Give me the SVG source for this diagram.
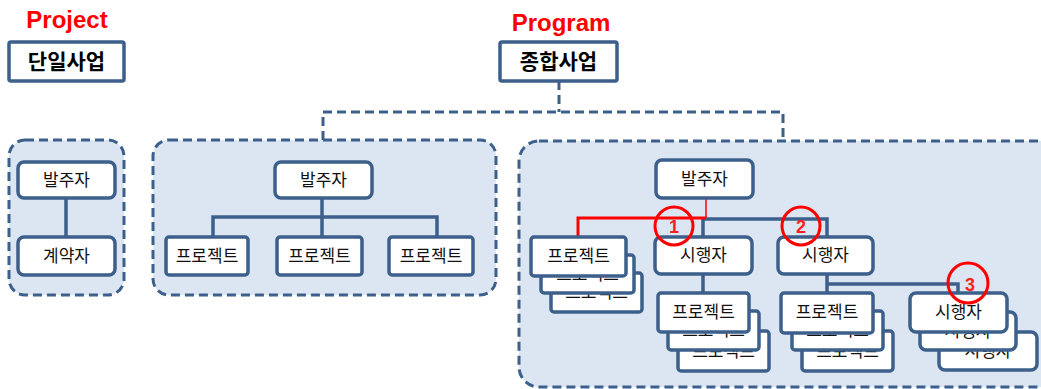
<svg xmlns="http://www.w3.org/2000/svg" width="1041" height="389" viewBox="0 0 1041 389">
<style>
.c{fill:#dce6f2;stroke:#3c5f8b;stroke-width:3;stroke-dasharray:9 5}
.n{fill:#fff;stroke:#3c5f8b;stroke-width:3.5}
.t{font-family:"Noto Sans CJK KR",sans-serif;font-size:17px;fill:#111;text-anchor:middle}
.tb{font-family:"Noto Sans CJK KR",sans-serif;font-size:21px;font-weight:bold;fill:#000;text-anchor:middle}
.lbl{font-family:"Liberation Sans",Arial,sans-serif;font-size:24px;font-weight:bold;fill:#ff0000;text-anchor:middle}
.ln{fill:none;stroke:#3c5f8b;stroke-width:3.5}
.dl{fill:none;stroke:#3c5f8b;stroke-width:3;stroke-dasharray:9 5}
.rl{fill:none;stroke:#ff0000;stroke-width:3}
.ci{fill:none;stroke:#ff0000;stroke-width:3}
.num{font-family:"Liberation Sans",Arial,sans-serif;font-size:18px;font-weight:bold;fill:#ff2020;text-anchor:middle}
</style>
<text class="lbl" x="67" y="28">Project</text>
<text class="lbl" x="561" y="31">Program</text>
<g id="containers">
<rect id="c-left" class="c" x="9" y="140" width="115" height="155" rx="16"/>
<rect id="c-mid" class="c" x="153" y="140" width="343" height="155" rx="16"/>
<rect id="c-right" class="c" x="519" y="141" width="540" height="246" rx="20"/>
</g>
<g id="connectors">
<path class="dl" d="M559 81V112M323 140V112H783V140"/>
<path class="ln" d="M66 198V237"/>
<path class="ln" d="M322 198V217M213 237V217H437V237M322 217V237"/>
<path class="ln" d="M703 237V219H827V237"/>
<path class="ln" d="M703 274V293"/>
<path class="ln" d="M827 274V293M827 284H958V293"/>
<path class="rl" d="M578 237V218H706"/>
<path fill="none" stroke="#ff0000" stroke-width="1.5" d="M706 198V218"/>
</g>
<g id="n-danil"><rect class="n" x="9" y="42" width="115" height="39" rx="2"/><text class="tb" x="66.5" y="69">단일사업</text></g>
<g id="n-jonghap"><rect class="n" x="500" y="42" width="117" height="39" rx="2"/><text class="tb" x="558.5" y="69">종합사업</text></g>
<g id="n-l-owner"><rect class="n" x="18" y="162" width="97" height="36" rx="6"/><text class="t" x="66.5" y="186">발주자</text></g>
<g id="n-l-contractor"><rect class="n" x="18" y="237" width="97" height="38" rx="6"/><text class="t" x="66.5" y="262">계약자</text></g>
<g id="n-m-owner"><rect class="n" x="275" y="162" width="97" height="36" rx="6"/><text class="t" x="323.5" y="186">발주자</text></g>
<g id="n-m-p1"><rect class="n" x="166" y="237" width="82" height="38" rx="3"/><text class="t" x="207" y="262">프로젝트</text></g>
<g id="n-m-p2"><rect class="n" x="277" y="237" width="85" height="38" rx="3"/><text class="t" x="319.5" y="262">프로젝트</text></g>
<g id="n-m-p3"><rect class="n" x="389" y="237" width="84" height="38" rx="3"/><text class="t" x="431" y="262">프로젝트</text></g>
<g id="n-r-owner"><rect class="n" x="656" y="160" width="97" height="38" rx="6"/><text class="t" x="704.5" y="185">발주자</text></g>
<g id="n-r-e1"><rect class="n" x="655" y="237" width="97" height="37" rx="6"/><text class="t" x="703.5" y="261">시행자</text></g>
<g id="n-r-e2"><rect class="n" x="778" y="237" width="95" height="37" rx="6"/><text class="t" x="825.5" y="261">시행자</text></g>
<g id="n-stack-a">
<rect class="n" x="551" y="273" width="91" height="39" rx="3"/><text class="t" x="596.5" y="298">프로젝트</text>
<rect class="n" x="541" y="255" width="93" height="38" rx="3"/><text class="t" x="587.5" y="280">프로젝트</text>
<rect class="n" x="531" y="237" width="95" height="39" rx="3"/><text class="t" x="578.5" y="262">프로젝트</text>
</g>
<g id="n-stack-b">
<rect class="n" x="678" y="331" width="91" height="40" rx="3"/><text class="t" x="723.5" y="357">프로젝트</text>
<rect class="n" x="668" y="311" width="91" height="39" rx="3"/><text class="t" x="713.5" y="336">프로젝트</text>
<rect class="n" x="658" y="293" width="91" height="39" rx="3"/><text class="t" x="703.5" y="318">프로젝트</text>
</g>
<g id="n-stack-c">
<rect class="n" x="802" y="331" width="91" height="40" rx="3"/><text class="t" x="847.5" y="357">프로젝트</text>
<rect class="n" x="792" y="311" width="91" height="39" rx="3"/><text class="t" x="837.5" y="336">프로젝트</text>
<rect class="n" x="781" y="293" width="92" height="40" rx="3"/><text class="t" x="827" y="318">프로젝트</text>
</g>
<g id="n-stack-d">
<rect class="n" x="939" y="332" width="98" height="38" rx="6"/><text class="t" x="988" y="357">시행자</text>
<rect class="n" x="920" y="312" width="96" height="38" rx="6"/><text class="t" x="968" y="337">시행자</text>
<rect class="n" x="910" y="293" width="97" height="39" rx="6"/><text class="t" x="958.5" y="318">시행자</text>
</g>
<g id="markers">
<circle class="ci" cx="674" cy="226" r="19"/><text class="num" x="674" y="233">1</text>
<circle class="ci" cx="801" cy="226" r="19"/><text class="num" x="801" y="233">2</text>
<circle class="ci" cx="968" cy="283" r="20"/><text class="num" x="970" y="291">3</text>
</g>
</svg>
